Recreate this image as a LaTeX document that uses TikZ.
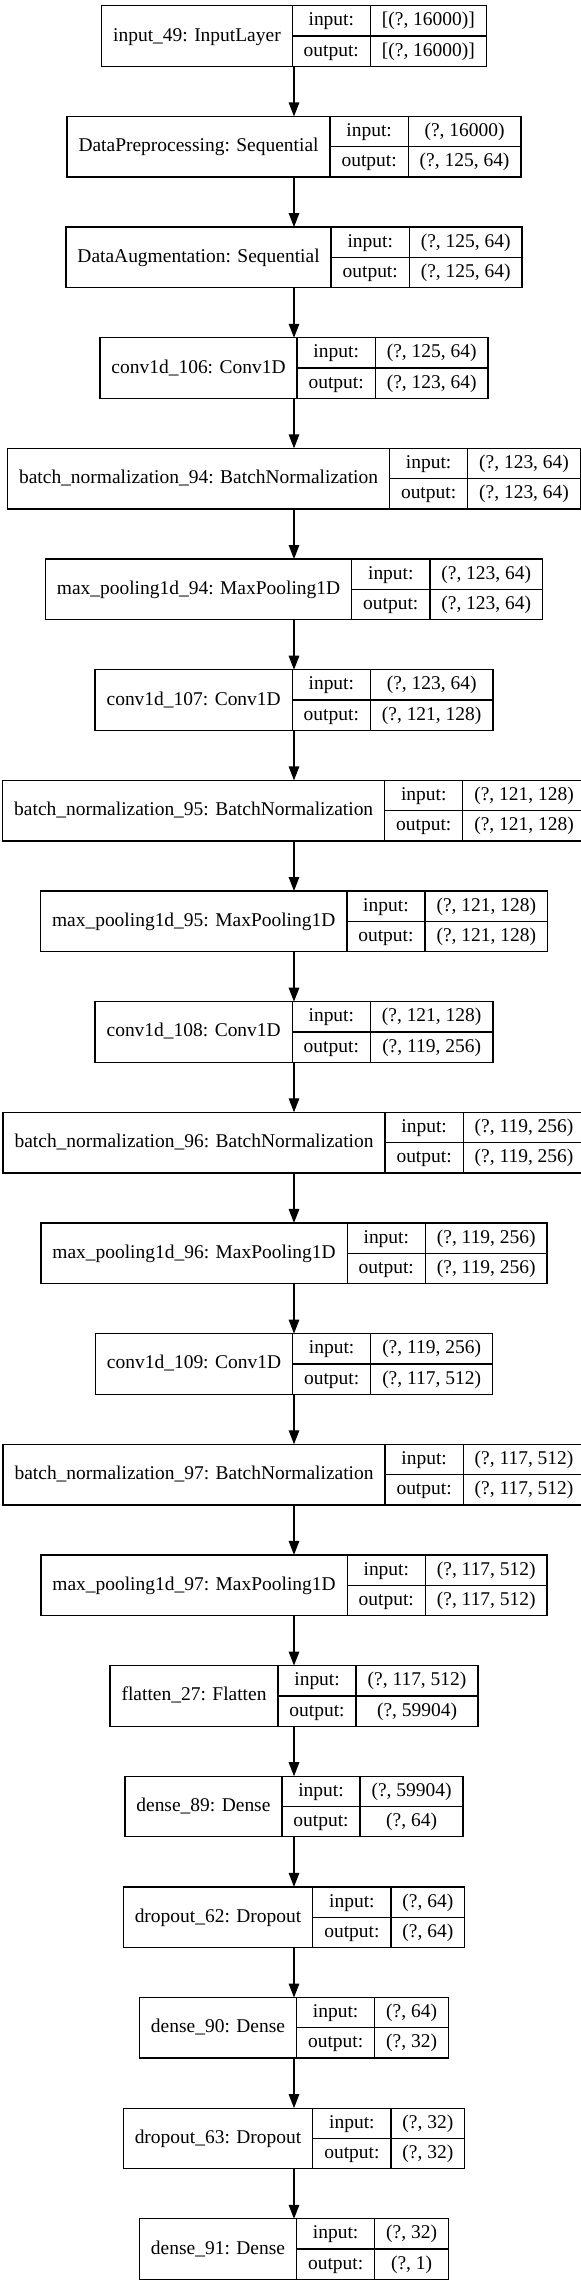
\documentclass[tikz,border=0pt]{standalone}
\usepackage{fontspec}
\setmainfont{Liberation Serif}
\usepackage{tikz}
\usetikzlibrary{arrows.meta,positioning}

\newcommand{\layerfont}{\fontsize{14.6pt}{17pt}\selectfont}
\tikzset{
  every node/.style={font=\layerfont},
  record/.style={outer sep=0pt,inner sep=0pt,minimum height=45.45pt},
  namecell/.style={draw,line width=1pt,outer sep=0pt,inner sep=0pt,minimum height=45.45pt,text height=10.5pt,text depth=3pt},
  rowcell/.style={draw,line width=1pt,outer sep=0pt,inner sep=0pt,minimum height=22.725pt,text height=10.5pt,text depth=3pt},
  flow/.style={-{Triangle[length=10.5pt,width=7.9pt]},line width=1pt}
}

\newlength\namew \newlength\labw \newlength\valw \newlength\tmpw \newlength\cellw
% width of a text in the layer font, also inside a picture
\newcommand{\textw}[2]{%
  \pgfinterruptpicture\settowidth{\cellw}{\layerfont #2}\global#1=\cellw\endpgfinterruptpicture}
% one layer: node name, row, label, input shape, output shape
\newcommand{\layer}[5]{%
  \textw\namew{#3}\addtolength\namew{17.25pt}%
  \textw\labw{output:}\addtolength\labw{17.25pt}%
  \textw\valw{#4}\textw\tmpw{#5}%
  \ifdim\tmpw>\valw\setlength\valw{\tmpw}\fi
  \addtolength\valw{17.25pt}%
  \setlength\tmpw{\dimexpr\namew+\labw+\valw\relax}%
  \node (#1) at (294, 36.1+110.65*#2) [record,minimum width=\tmpw] {};
  \node (#1-name) at (#1.west) [namecell,anchor=west,minimum width=\namew] {#3};
  \node (#1-inlab) at (#1-name.north east) [rowcell,anchor=north west,minimum width=\labw] {input:};
  \node (#1-outlab) at (#1-inlab.south west) [rowcell,anchor=north west,minimum width=\labw] {output:};
  \node (#1-in) at (#1-inlab.north east) [rowcell,anchor=north west,minimum width=\valw] {#4};
  \node (#1-out) at (#1-in.south west) [rowcell,anchor=north west,minimum width=\valw] {#5};
}

\begin{document}
\begin{tikzpicture}[x=0.75pt,y=-0.75pt]
  \useasboundingbox (0,0) rectangle (581,2287);
  \layer{input}{0}{input\_49: InputLayer}{[(?, 16000)]}{[(?, 16000)]}
  \layer{prep}{1}{DataPreprocessing: Sequential}{(?, 16000)}{(?, 125, 64)}
  \layer{aug}{2}{DataAugmentation: Sequential}{(?, 125, 64)}{(?, 125, 64)}
  \layer{conv106}{3}{conv1d\_106: Conv1D}{(?, 125, 64)}{(?, 123, 64)}
  \layer{bn94}{4}{batch\_normalization\_94: BatchNormalization}{(?, 123, 64)}{(?, 123, 64)}
  \layer{pool94}{5}{max\_pooling1d\_94: MaxPooling1D}{(?, 123, 64)}{(?, 123, 64)}
  \layer{conv107}{6}{conv1d\_107: Conv1D}{(?, 123, 64)}{(?, 121, 128)}
  \layer{bn95}{7}{batch\_normalization\_95: BatchNormalization}{(?, 121, 128)}{(?, 121, 128)}
  \layer{pool95}{8}{max\_pooling1d\_95: MaxPooling1D}{(?, 121, 128)}{(?, 121, 128)}
  \layer{conv108}{9}{conv1d\_108: Conv1D}{(?, 121, 128)}{(?, 119, 256)}
  \layer{bn96}{10}{batch\_normalization\_96: BatchNormalization}{(?, 119, 256)}{(?, 119, 256)}
  \layer{pool96}{11}{max\_pooling1d\_96: MaxPooling1D}{(?, 119, 256)}{(?, 119, 256)}
  \layer{conv109}{12}{conv1d\_109: Conv1D}{(?, 119, 256)}{(?, 117, 512)}
  \layer{bn97}{13}{batch\_normalization\_97: BatchNormalization}{(?, 117, 512)}{(?, 117, 512)}
  \layer{pool97}{14}{max\_pooling1d\_97: MaxPooling1D}{(?, 117, 512)}{(?, 117, 512)}
  \layer{flatten}{15}{flatten\_27: Flatten}{(?, 117, 512)}{(?, 59904)}
  \layer{dense89}{16}{dense\_89: Dense}{(?, 59904)}{(?, 64)}
  \layer{drop62}{17}{dropout\_62: Dropout}{(?, 64)}{(?, 64)}
  \layer{dense90}{18}{dense\_90: Dense}{(?, 64)}{(?, 32)}
  \layer{drop63}{19}{dropout\_63: Dropout}{(?, 32)}{(?, 32)}
  \layer{dense91}{20}{dense\_91: Dense}{(?, 32)}{(?, 1)}
  \draw [flow] (input) -- (prep);
  \draw [flow] (prep) -- (aug);
  \draw [flow] (aug) -- (conv106);
  \draw [flow] (conv106) -- (bn94);
  \draw [flow] (bn94) -- (pool94);
  \draw [flow] (pool94) -- (conv107);
  \draw [flow] (conv107) -- (bn95);
  \draw [flow] (bn95) -- (pool95);
  \draw [flow] (pool95) -- (conv108);
  \draw [flow] (conv108) -- (bn96);
  \draw [flow] (bn96) -- (pool96);
  \draw [flow] (pool96) -- (conv109);
  \draw [flow] (conv109) -- (bn97);
  \draw [flow] (bn97) -- (pool97);
  \draw [flow] (pool97) -- (flatten);
  \draw [flow] (flatten) -- (dense89);
  \draw [flow] (dense89) -- (drop62);
  \draw [flow] (drop62) -- (dense90);
  \draw [flow] (dense90) -- (drop63);
  \draw [flow] (drop63) -- (dense91);
\end{tikzpicture}
\end{document}
